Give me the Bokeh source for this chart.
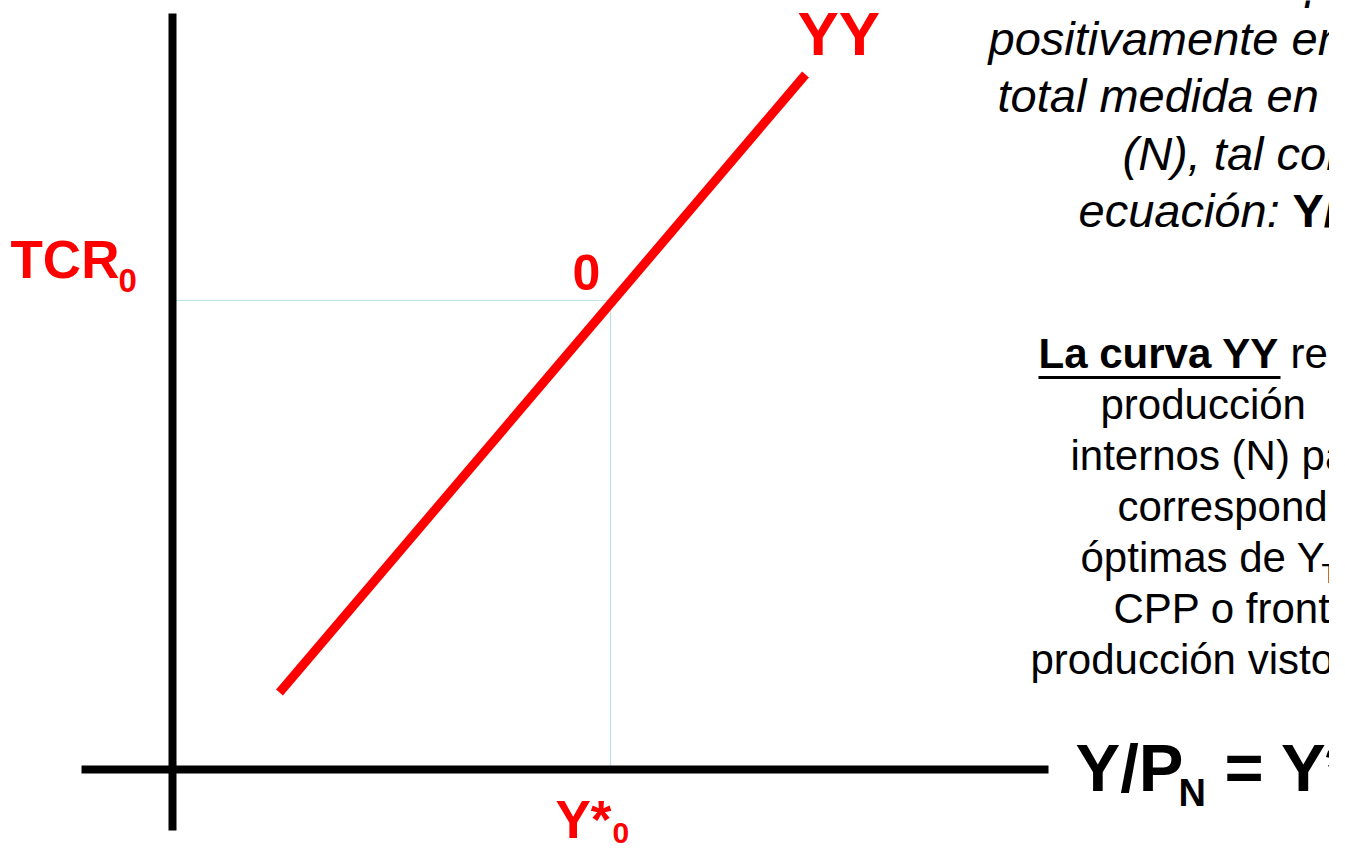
from bokeh.plotting import figure
from bokeh.models import Range1d
from bokeh.core.properties import value
from bokeh.embed import file_html
from bokeh.resources import INLINE

# ---- data (chart units; origin = axes intersection) ----
curve_x = [107, 633]          # YY curve endpoints (Y/P_N)
curve_y = [77, 695]           # (TCR)
eq_x = 438                    # Y*_0
eq_y = 469                    # TCR_0

axis_v_y = [-61, 756]
axis_h_x = [-91, 876]

FONT = value("Liberation Sans")
RED = "#FF0000"

W, H = 1329, 849
x0, y0 = 172, 769  # pixel position of origin inside the figure

p = figure(width=W, height=H, output_backend="svg", toolbar_location=None,
           x_range=Range1d(-x0, W - x0), y_range=Range1d(y0 - H, y0),
           min_border=0)
p.axis.visible = False
p.grid.visible = False
p.outline_line_color = None
p.background_fill_color = "white"
p.border_fill_color = "white"

# guide lines
p.line([0, eq_x, eq_x], [eq_y, eq_y, 0], line_color="#BFDFE3", line_width=1.2)

# axes
p.line([0, 0], axis_v_y, line_color="black", line_width=8)
p.line(axis_h_x, [0, 0], line_color="black", line_width=8)

# YY curve
p.line(curve_x, curve_y, line_color=RED, line_width=9)

K = 0.36  # baseline correction (fraction of font size)

def txt(xs, ys, texts, size, color="black", style="normal"):
    ys2 = [y + K * size for y in ys]
    p.text(x=xs, y=ys2, text=texts, text_font=FONT, text_font_size=f"{size}px",
           text_color=color, text_font_style=style, text_baseline="alphabetic",
           text_align="left")

# red labels
txt([-162], [491], ["TCR"], 53, RED, "bold")
txt([-54], [477], ["0"], 33, RED, "bold")
txt([400], [479], ["0"], 50, RED, "bold")
txt([625], [714], ["YY"], 62, RED, "bold")
txt([383], [-69], ["Y*"], 53, RED, "bold")
txt([440], [-74], ["0"], 30, RED, "bold")

# italic paragraph (top right)
it_lines = ["El tipo de cambio real se relaciona",
            "positivamente en la",
            "total medida en términos",
            "(N), tal como lo",
            "ecuación: "]
it_x = [1055, 816, 825, 950, 906]
it_y = [771, 714, 657, 599, 542]
txt(it_x, it_y, it_lines, 47, "black", "italic")
txt([1120], [542], ["Y/P"], 47, "black", "bold")

# normal paragraph (right)
txt([866], [401], ["La curva YY"], 42, "black", "bold")
p.line([866, 1108], [392, 392], line_color="black", line_width=3)
nm_lines = ["recoge", "producción", "internos (N) para",
            "correspondencia", "óptimas de Y", "CPP o frontera",
            "producción vistos"]
nm_x = [1118, 928, 898, 945, 908, 941, 858]
nm_y = [401, 350, 299, 248, 197, 146, 95]
txt(nm_x, nm_y, nm_lines, 42, "black", "normal")
txt([1149], [186], ["T"], 27, "black", "normal")

# equation at end of horizontal axis
txt([903], [-22], ["Y/P"], 67, "black", "bold")
txt([1006], [-37], ["N"], 38, "black", "bold")
txt([1052], [-22], ["= Y*"], 67, "black", "bold")

open("out.html", "w").write(file_html(p, INLINE))
